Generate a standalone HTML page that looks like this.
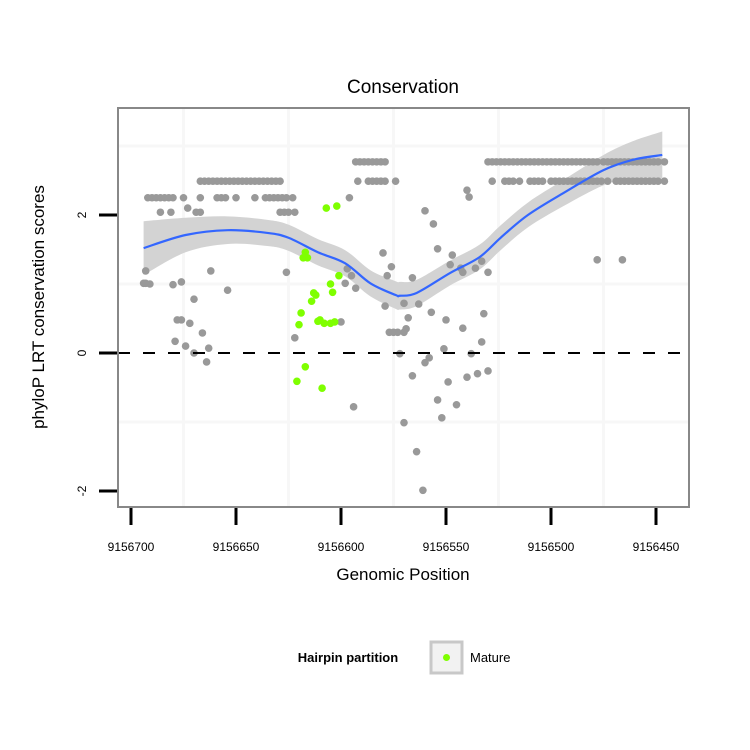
<!DOCTYPE html>
<html><head><meta charset="utf-8"><style>
body{margin:0;background:#fff}
svg{display:block;font-family:"Liberation Sans",sans-serif}
</style></head><body>
<svg id="c" width="750" height="750">
<text x="403" y="93" font-size="19" text-anchor="middle">Conservation</text>
<text transform="translate(44,307) rotate(-90)" font-size="17" text-anchor="middle">phyloP LRT conservation scores</text>
<text x="403" y="580" font-size="17" text-anchor="middle">Genomic Position</text>
<g id="grid"></g>
<g id="band"></g>
<g id="pts"></g>
<g id="axes"></g>
<g>
<text x="348" y="662" font-size="13" font-weight="bold" text-anchor="middle">Hairpin partition</text>
<rect x="431" y="642" width="31" height="31" fill="#f2f2f2" stroke="#c8c8c8" stroke-width="3"/>
<circle cx="446.5" cy="657.5" r="3.5" fill="#7fff00"/>
<text x="470" y="662" font-size="13">Mature</text>
</g>
</svg>
<script>
const xTicks=[9156700,9156650,9156600,9156550,9156500,9156450];
const yTicks=[-2,0,2];
const r277a=[107,109,111,113,115,117,119,121];
const r277b=[170,172,174,176,178,180,182,184,186,188,190,192,194,196,198,200,202,204,206,208,210,212,214,216,218,220,222,225,227,229,231,233,235,237,239,241,243,245,247,249,251,254];
const r249=[33,35,37,39,41,43,45,47,49,51,53,55,57,59,61,63,65,67,69,71,108,113,115,117,119,121,126,172,178,180,182,185,190,192,194,196,200,202,204,206,208,210,212,214,216,218,220,222,224,227,231,233,235,237,239,241,243,245,247,249,251,254];
const r225=[8,10,12,14,16,18,20,25,33,41,43,45,50,59,64,66,68,70,72,74,77,104];
const r204=[14,19,31,33,71,73,75,78];
const grayOff=[7,6,7,9,20,24,38,46,30,22,24,28,34,21,26,30,37,36,74,78,103,105,102,107,100,106,130,121,130,128,27,160,161,140,144,146,153,152,157,158,164,167,170,222,234,120,124,122,134,137,132,143,150,158,168,123,125,127,130,131,167,149,142,140,162,134,151,160,165,170,146,155,148,136,139];
const grayVal=[1.19,1.01,1.01,1.0,0.99,1.03,1.19,0.91,0.78,0.48,0.48,0.43,0.29,0.17,0.1,0.0,0.07,-0.13,1.17,0.22,1.22,1.12,1.01,0.94,0.45,-0.78,-1.01,0.68,0.72,-0.01,2.1,2.36,2.26,2.06,1.87,1.51,1.42,1.28,1.23,1.17,1.23,1.33,1.17,1.35,1.35,1.45,1.25,1.12,1.09,0.71,0.51,0.59,0.48,0.36,0.57,0.3,0.3,0.3,0.3,0.35,0.16,0.06,-0.07,-0.14,-0.01,-0.33,-0.42,-0.35,-0.3,-0.26,-0.68,-0.75,-0.94,-1.43,-1.99];
const greenOff=[93,98,83,82,84,99,95,96,87,88,86,81,80,89,90,92,95,97,83,79,91];
const greenVal=[2.1,2.13,1.46,1.38,1.38,1.12,1.0,0.88,0.87,0.84,0.75,0.58,0.41,0.46,0.48,0.43,0.43,0.45,-0.2,-0.41,-0.51];
const fitOff=[6,26,46,65,75,89,102,114,126,128,136,152,166,176,189,206,225,239,253];
const fitVal=[1.52,1.71,1.78,1.74,1.67,1.46,1.30,1.01,0.84,0.83,0.87,1.16,1.39,1.67,2.0,2.32,2.65,2.8,2.87];
const fitSe=[0.39,0.25,0.2,0.19,0.19,0.19,0.19,0.19,0.2,0.2,0.19,0.18,0.18,0.18,0.18,0.19,0.22,0.27,0.34];
const START=9156700;
const X=p=>131+(START-p)*2.1;
const Y=v=>353-v*69;
const NS="http://www.w3.org/2000/svg";
function mk(par,tag,at){const e=document.createElementNS(NS,tag);for(const k in at)e.setAttribute(k,at[k]);par.appendChild(e);return e;}
function spline(p){let d='M'+p[0][0]+','+p[0][1];
 for(let i=0;i<p.length-1;i++){const p0=p[Math.max(0,i-1)],p1=p[i],p2=p[i+1],p3=p[Math.min(p.length-1,i+2)];
  const c1=[p1[0]+(p2[0]-p0[0])/6,p1[1]+(p2[1]-p0[1])/6],c2=[p2[0]-(p3[0]-p1[0])/6,p2[1]-(p3[1]-p1[1])/6];
  d+=' C'+c1+' '+c2+' '+p2;}return d;}
const grid=document.getElementById('grid');
let bg=mk(grid,'rect',{x:118,y:108,width:571,height:399,fill:'#fff'});


for(let i=0;i<xTicks.length-1;i++){const xm=(X(xTicks[i])+X(xTicks[i+1]))/2;
 let l=mk(grid,'line',{x1:xm,x2:xm,y1:108,y2:507,stroke:'#f7f7f7','stroke-width':3});
 
 }
[3,1,-1].forEach(v=>{let l=mk(grid,'line',{x1:118,x2:689,y1:Y(v),y2:Y(v),stroke:'#f7f7f7','stroke-width':3});
 
 });
const band=document.getElementById('band');
let upP=fitOff.map((o,i)=>[X(START-o),Y(fitVal[i]+fitSe[i])]);
let loP=fitOff.map((o,i)=>[X(START-o),Y(fitVal[i]-fitSe[i])]).reverse();
let pg=mk(band,'path',{d:spline(upP)+' L'+loP[0]+' '+spline(loP).slice(1)+' Z',fill:'#d3d3d3'});


const pts=document.getElementById('pts');
function dot(o,v,c){let e=mk(pts,'circle',{cx:X(START-o),cy:Y(v),r:3.8,fill:c});
 
 }
r277a.concat(r277b).forEach(o=>dot(o,2.77,'#999'));
r249.forEach(o=>dot(o,2.49,'#999'));
r225.forEach(o=>dot(o,2.25,'#999'));
r204.forEach(o=>dot(o,2.04,'#999'));
grayOff.forEach((o,i)=>dot(o,grayVal[i],'#999'));
let fl=mk(pts,'path',{d:spline(fitOff.map((o,i)=>[X(START-o),Y(fitVal[i])])),fill:'none',stroke:'#3366ff','stroke-width':2.2});


greenOff.forEach((o,i)=>dot(o,greenVal[i],'#7fff00'));
const ax=document.getElementById('axes');
let zl=mk(ax,'line',{x1:118,x2:689,y1:Y(0),y2:Y(0),stroke:'#000','stroke-width':2,'stroke-dasharray':'12,13'});


let br=mk(ax,'rect',{x:118,y:108,width:571,height:399,fill:'none',stroke:'#888','stroke-width':2});


xTicks.forEach(t=>{let l=mk(ax,'line',{x1:X(t),x2:X(t),y1:508,y2:525,stroke:'#000','stroke-width':3});
 
 
 let tx=mk(ax,'text',{x:X(t),y:551,'font-size':12,'text-anchor':'middle'});tx.textContent=t;
 
 });
yTicks.forEach(t=>{let l=mk(ax,'line',{x1:99,x2:117,y1:Y(t),y2:Y(t),stroke:'#000','stroke-width':3});
 
 
 let tx=mk(ax,'text',{transform:`translate(86,${Y(t)}) rotate(-90)`,'font-size':12,'text-anchor':'middle'});tx.textContent=t;
 
 });
</script>
</body></html>
